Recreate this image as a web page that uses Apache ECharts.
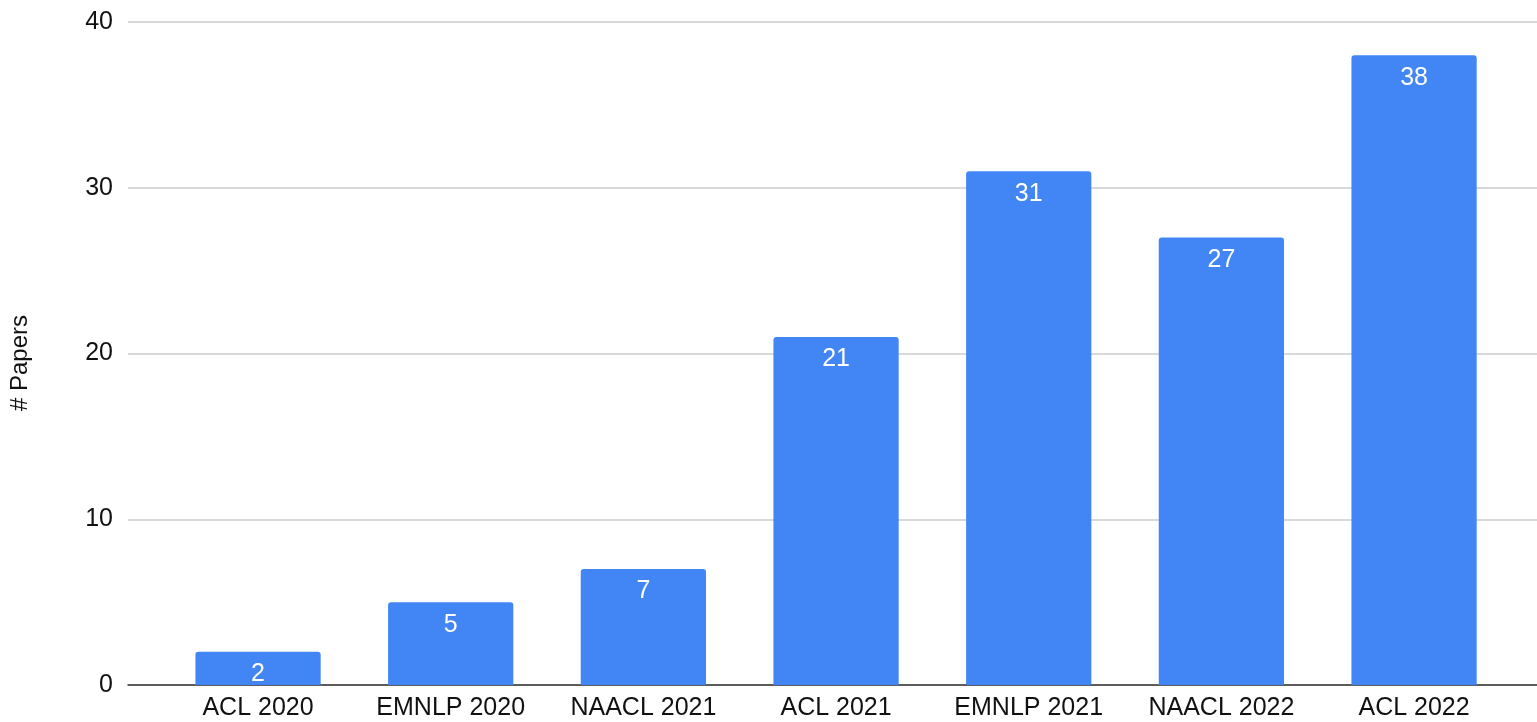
<!DOCTYPE html>
<html>
<head>
<meta charset="utf-8">
<script src="https://cdn.jsdelivr.net/npm/echarts@6/dist/echarts.min.js"></script>
<style>
html,body{margin:0;padding:0;background:#fff;}
#chart{width:1537px;height:722px;}
</style>
</head>
<body>
<div id="chart"></div>
<script>
const categories = ['ACL 2020','EMNLP 2020','NAACL 2021','ACL 2021','EMNLP 2021','NAACL 2022','ACL 2022'];
const papers = [2, 5, 7, 21, 31, 27, 38];
const yTicks = [0, 10, 20, 30, 40];
const yAxisTitle = '# Papers';

const FONT = '"Liberation Sans", Arial, sans-serif';
const chart = echarts.init(document.getElementById('chart'), null, {renderer:'canvas'});
chart.setOption({
  animation: false,
  backgroundColor: '#fff',
  grid: [
    {left: 128, top: 22, width: 1416, bottom: 37},
    {left: 161.7, top: 22, width: 1348.7, bottom: 37}
  ],
  xAxis: [
    {gridIndex: 0, type: 'value', min: 0, max: 1, show: true,
     axisLine: {show: true, onZero: false, lineStyle: {color: '#333', width: 1.5}},
     axisTick: {show: false}, axisLabel: {show: false}, splitLine: {show: false}},
    {gridIndex: 1, type: 'category', data: categories,
     axisLine: {show: false}, axisTick: {show: false}, splitLine: {show: false},
     axisLabel: {interval: 0, hideOverlap: false, color: '#111', fontSize: 25, fontFamily: FONT, margin: 11}}
  ],
  yAxis: [
    {gridIndex: 0, type: 'value', min: yTicks[0], max: yTicks[yTicks.length-1], interval: 10,
     axisLine: {show: false}, axisTick: {show: false},
     axisLabel: {color: '#111', fontSize: 25, fontFamily: FONT, margin: 15},
     splitLine: {show: true, lineStyle: {color: '#cccccc', width: 1.5}}},
    {gridIndex: 1, type: 'value', min: yTicks[0], max: yTicks[yTicks.length-1], interval: 10, show: false,
     splitLine: {show: false}}
  ],
  graphic: [{
    type: 'text',
    rotation: Math.PI/2,
    style: {text: yAxisTitle, font: '24px ' + FONT, fill: '#111', textAlign: 'center', textVerticalAlign: 'middle'},
    x: 20, y: 363
  }],
  series: [{
    type: 'bar', xAxisIndex: 1, yAxisIndex: 1,
    data: papers, barWidth: '65%',
    itemStyle: {color: '#4285F4', borderRadius: [3,3,0,0]},
    label: {show: true, position: 'insideTop', distance: 10, color: '#fff', fontSize: 25, fontFamily: FONT}
  }]
});
</script>
</body>
</html>
